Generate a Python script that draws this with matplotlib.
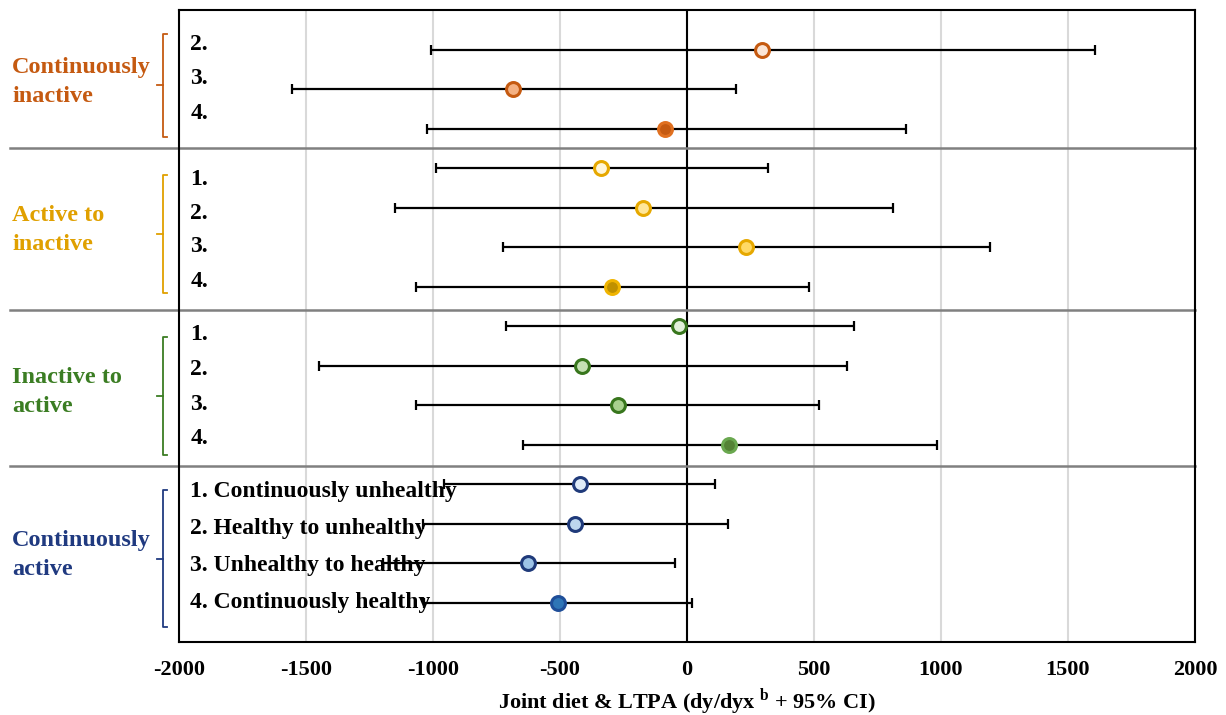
import matplotlib.pyplot as plt
import matplotlib.transforms as mtransforms

plt.rcParams['font.family'] = ['Liberation Serif', 'DejaVu Serif']
plt.rcParams['font.weight'] = 'bold'
plt.rcParams['axes.unicode_minus'] = False
plt.rcParams['mathtext.fontset'] = 'custom'
plt.rcParams['mathtext.rm'] = 'Liberation Serif'
plt.rcParams['mathtext.bf'] = 'Liberation Serif:bold'

# data
groups = ['Continuously\ninactive', 'Active to\ninactive', 'Inactive to\nactive', 'Continuously\nactive']
group_rows = [3, 4, 4, 4]
row_labels = ['2.', '3.', '4.',
              '1.', '2.', '3.', '4.',
              '1.', '2.', '3.', '4.',
              '1. Continuously unhealthy', '2. Healthy to unhealthy',
              '3. Unhealthy to healthy', '4. Continuously healthy']
estimate = [295, -685, -87,
            -339, -173, 232, -295,
            -31, -413, -272, 165,
            -421, -441, -626, -508]
ci_low = [-1008, -1555, -1024,
          -988, -1150, -724, -1067,
          -713, -1449, -1067, -646,
          -958, -1040, -1197, -1035]
ci_high = [1606, 193, 862,
           319, 811, 1193, 480,
           657, 630, 520, 984,
           110, 161, -47, 20]

# styling
group_colors = ['#C55A11', '#E0A000', '#3B7D23', '#203A80']
face_colors = ['#FBE5D6', '#F4B183', '#C55A11',
               '#FFF6DA', '#FFE699', '#FFD966', '#BF9000',
               '#E2F0D9', '#C5E0B4', '#A9D18E', '#548235',
               '#DEEBF7', '#BDD7EE', '#9DC3E6', '#2E75B6']
edge_colors = ['#C55A11', '#C55A11', '#E07020',
               '#E6A800', '#E6A800', '#E6A800', '#F0B400',
               '#38761D', '#38761D', '#38761D', '#6AA84F',
               '#1F3A7A', '#1F3A7A', '#1F3A7A', '#1F4E99']
label_y = [-0.13, 0.73, 1.61, 3.28, 4.14, 4.99, 5.88,
           7.21, 8.10, 8.98, 9.84, 11.2, 12.13, 13.07, 14.0]
bracket_y = [(-0.4, 2.22), (3.18, 6.16), (7.29, 10.27), (11.15, 14.63)]
separators = [2.5, 6.6, 10.55]

fig = plt.figure(figsize=(12.26, 7.15), dpi=100)
ax = fig.add_axes([0.146, 0.102, 0.8287, 0.884])

ax.set_xlim(-2000, 2000)
ax.set_ylim(15, -1)
ax.set_xticks(range(-2000, 2001, 500))
ax.set_yticks([])
ax.tick_params(axis='x', length=0, pad=13, labelsize=16)
for lab in ax.get_xticklabels():
    lab.set_fontweight('bold')
ax.grid(axis='x', color='#D9D9D9', lw=1.5)
ax.set_axisbelow(True)
for sp in ax.spines.values():
    sp.set_linewidth(1.5)
ax.axvline(0, color='black', lw=1.5, zorder=1)

for i in range(len(estimate)):
    ax.errorbar(estimate[i], i, xerr=[[estimate[i] - ci_low[i]], [ci_high[i] - estimate[i]]],
                fmt='none', ecolor='black', elinewidth=1.6, capsize=3.5, capthick=1.6, zorder=2)
    ax.plot(estimate[i], i, 'o', ms=10, mfc=face_colors[i], mec=edge_colors[i], mew=2.2, zorder=3)
    ax.text(-1955, label_y[i], row_labels[i], fontsize=17, fontweight='bold',
            va='center', ha='left', zorder=4)

trans = mtransforms.blended_transform_factory(ax.transAxes, ax.transData)
for g in range(len(groups)):
    y0, y1 = bracket_y[g]
    mid = (y0 + y1) / 2
    c = group_colors[g]
    ax.plot([-0.0118, -0.0157, -0.0157, -0.0118], [y0, y0, y1, y1], color=c, lw=1.3,
            transform=trans, clip_on=False)
    ax.plot([-0.0157, -0.0217], [mid, mid], color=c, lw=1.3, transform=trans, clip_on=False)
    ax.text(-0.164, mid - 0.1, groups[g], color=c, fontsize=17.5, fontweight='bold',
            ha='left', va='center', transform=trans, linespacing=1.5)

for s in separators:
    ax.axhline(s, xmin=-0.166, xmax=1, color='#808080', lw=1.8, clip_on=False, zorder=1)

ax.set_xlabel('Joint diet & LTPA (dy/dyx $^{\\mathbf{b}}$ + 95% CI)', fontsize=16,
              fontweight='bold', labelpad=4)

fig.savefig('out.png', dpi=100)
